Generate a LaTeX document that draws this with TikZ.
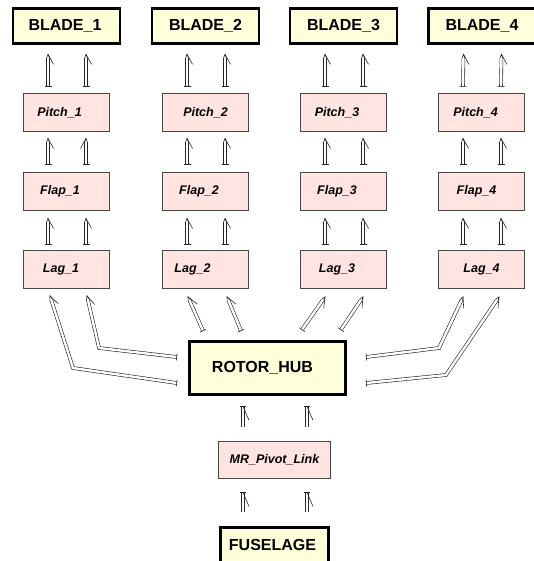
\documentclass[tikz,border=0pt]{standalone}
\usepackage{fontspec}
\setmainfont{Liberation Sans}
\usetikzlibrary{decorations.markings}
\definecolor{yelc}{RGB}{255,255,217}
\definecolor{pinkc}{RGB}{255,228,225}
\definecolor{edgec}{RGB}{70,70,70}
\tikzset{
 yelbox/.style={draw=black, line width=2.6pt, fill=yelc, inner sep=0pt, font=\bfseries\fontsize{16}{19}\selectfont},
 pinkbox/.style={draw=edgec, line width=0.8pt, fill=pinkc, inner sep=0pt, minimum width=86pt, minimum height=38pt, font=\bfseries\itshape\fontsize{12.5}{15}\selectfont},
 shaft/.style={draw=black!85, line width=0.6pt, double=white, double distance=2.4pt, line join=miter},
 conn/.style={shaft, postaction={decorate, decoration={markings,
   mark=at position 0 with {\draw[black!85, line width=0.6pt] (0pt,-3.5pt) -- (0pt,3.5pt);},
   mark=at position 1 with {\fill[white] (-4pt,-2.4pt) rectangle (0.3pt,2.4pt);
      \draw[black!85, line width=0.6pt] (-4pt,1.5pt) -- (0pt,0pt) -- (-4pt,-1.5pt);
      \draw[black!85, line width=0.6pt] (0pt,0pt) -- (-10pt,-5.5pt);}}}},
 connL/.style={shaft, postaction={decorate, decoration={markings,
   mark=at position 0 with {\draw[black!85, line width=0.6pt] (0pt,-3.5pt) -- (0pt,3.5pt);},
   mark=at position 1 with {\fill[white] (-4pt,-2.4pt) rectangle (0.3pt,2.4pt);
      \draw[black!85, line width=0.6pt] (-4pt,1.5pt) -- (0pt,0pt) -- (-4pt,-1.5pt);
      \draw[black!85, line width=0.6pt] (0pt,0pt) -- (-10pt,5.5pt);}}}},
 connT/.style={shaft, postaction={decorate, decoration={markings,
   mark=at position 1 with {\draw[black!85, line width=0.6pt] (0pt,-3pt) -- (0pt,3pt);
      \draw[black!85, line width=0.6pt] (0pt,0pt) -- (-14pt,-6pt);}}}},
}
\begin{document}
\begin{tikzpicture}[x=1pt,y=-1pt]
\useasboundingbox (0,0) rectangle (534,561);
% blades
\node[yelbox, minimum width=107pt, minimum height=35pt] (b1) at (66.5,26) {BLADE\_1\hspace*{3pt}};
\node[yelbox, minimum width=107pt, minimum height=35pt] (b2) at (205.5,26) {BLADE\_2};
\node[yelbox, minimum width=107pt, minimum height=35pt] (b3) at (343.5,26) {BLADE\_3};
\node[yelbox, minimum width=107pt, minimum height=35pt] (b4) at (482,26) {BLADE\_4};
% pitch
\node[pinkbox] (p1) at (66.5,112.5) {Pitch\_1\hspace*{14pt}};
\node[pinkbox] (p2) at (205.5,112.5) {Pitch\_2};
\node[pinkbox] (p3) at (343.5,112.5) {Pitch\_3\hspace*{13pt}};
\node[pinkbox] (p4) at (481.5,112.5) {Pitch\_4\hspace*{12pt}};
% flap
\node[pinkbox] (f1) at (66.5,191) {Flap\_1\hspace*{13pt}};
\node[pinkbox] (f2) at (205.5,191) {Flap\_2\hspace*{13pt}};
\node[pinkbox] (f3) at (343.5,191) {Flap\_3\hspace*{13pt}};
\node[pinkbox] (f4) at (481.5,191) {Flap\_4\hspace*{10pt}};
% lag
\node[pinkbox] (l1) at (66.5,269.5) {Lag\_1\hspace*{11pt}};
\node[pinkbox] (l2) at (205.5,269.5) {Lag\_2\hspace*{26pt}};
\node[pinkbox] (l3) at (343.5,269.5) {Lag\_3\hspace*{13pt}};
\node[pinkbox] (l4) at (481.5,269.5) {Lag\_4};
% hub, pivot, fuselage
\node[yelbox, minimum width=156pt, minimum height=53pt] (hub) at (267.5,368) {ROTOR\_HUB\hspace*{10pt}};
\node[pinkbox, minimum width=112pt, minimum height=37pt] (piv) at (274.5,460) {MR\_Pivot\_Link};
\node[yelbox, minimum width=108pt, minimum height=35pt] (fus) at (274.5,545) {FUSELAGE\hspace*{4pt}};
% vertical connectors
\foreach \i in {1,2,3,4}{
 \draw[conn] ([xshift=-18.5pt,yshift=6.5pt]p\i.north) -- ([xshift=-18.5pt,yshift=-9.5pt]b\i.south);
 \draw[conn] ([xshift=19.5pt,yshift=6.5pt]p\i.north) -- ([xshift=19.5pt,yshift=-9.5pt]b\i.south);
 \draw[conn] ([xshift=-18.5pt,yshift=7pt]f\i.north) -- ([xshift=-18.5pt,yshift=-6.5pt]p\i.south);
 \draw[conn] ([xshift=-18.5pt,yshift=5.5pt]l\i.north) -- ([xshift=-18.5pt,yshift=-8pt]f\i.south);
 \draw[conn] ([xshift=19.5pt,yshift=5.5pt]l\i.north) -- ([xshift=19.5pt,yshift=-8pt]f\i.south);
}
\draw[connL] ([xshift=19.5pt,yshift=7pt]f1.north) -- ([xshift=19.5pt,yshift=-6.5pt]p1.south);
\foreach \i in {2,3,4}{
 \draw[conn] ([xshift=19.5pt,yshift=7pt]f\i.north) -- ([xshift=19.5pt,yshift=-6.5pt]p\i.south);
}
% hub to lag connectors
\coordinate (k1) at (73,368);
\coordinate (k2) at (99,348);
\coordinate (k3) at (439,348);
\coordinate (k4) at (446,375);
\draw[conn] ([xshift=-11.5pt,yshift=-15pt]hub.west) -- (k1) -- ([xshift=-16.5pt,yshift=-7pt]l1.south);
\draw[conn] ([xshift=-11.5pt,yshift=11pt]hub.west) -- (k2) -- ([xshift=20.5pt,yshift=-7pt]l1.south);
\draw[conn] ([xshift=-64.5pt,yshift=9.5pt]hub.north) -- ([xshift=-17.5pt,yshift=-8pt]l2.south);
\draw[conn] ([xshift=-26.5pt,yshift=9.5pt]hub.north) -- ([xshift=21.5pt,yshift=-8pt]l2.south);
\draw[conn] ([xshift=34.5pt,yshift=10.5pt]hub.north) -- ([xshift=-18.5pt,yshift=-8pt]l3.south);
\draw[conn] ([xshift=73.5pt,yshift=10.5pt]hub.north) -- ([xshift=19.5pt,yshift=-8pt]l3.south);
\draw[conn] ([xshift=19.5pt,yshift=11pt]hub.east) -- (k3) -- ([xshift=-18.5pt,yshift=-8pt]l4.south);
\draw[conn] ([xshift=19.5pt,yshift=-15pt]hub.east) -- (k4) -- ([xshift=17.5pt,yshift=-8pt]l4.south);
% pivot / fuselage connectors
\draw[connT] ([xshift=-31.5pt,yshift=14.5pt]piv.north) -- ([xshift=-24.5pt,yshift=-10.5pt]hub.south);
\draw[connT] ([xshift=32.5pt,yshift=14.5pt]piv.north) -- ([xshift=39.5pt,yshift=-10.5pt]hub.south);
\draw[connT] ([xshift=-31.5pt,yshift=14.5pt]fus.north) -- ([xshift=-31.5pt,yshift=-13.5pt]piv.south);
\draw[connT] ([xshift=32.5pt,yshift=14.5pt]fus.north) -- ([xshift=32.5pt,yshift=-13.5pt]piv.south);
\end{tikzpicture}
\end{document}
